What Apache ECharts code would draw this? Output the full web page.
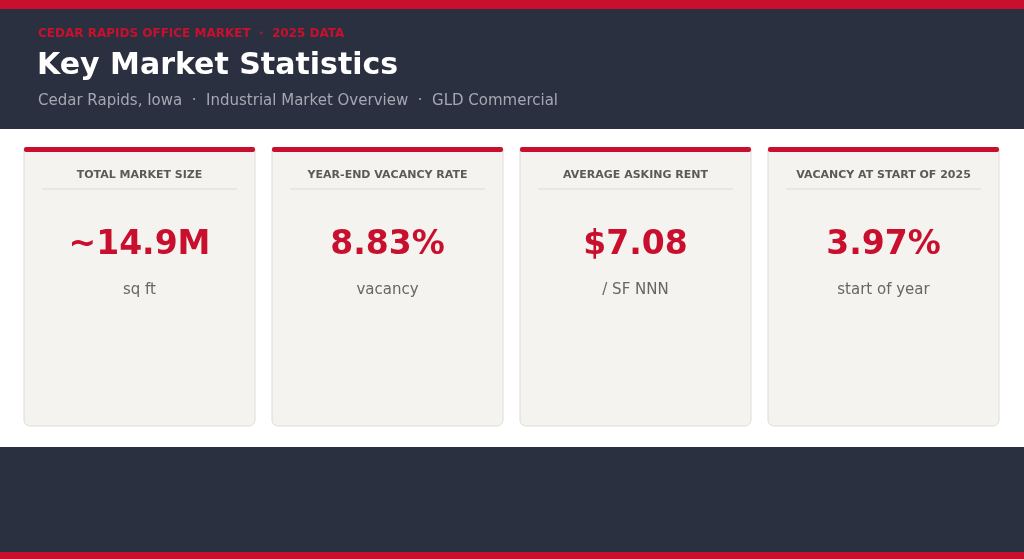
<!DOCTYPE html>
<html lang="en">
<head>
    <meta charset="UTF-8">
    <title>Key Market Statistics</title>
    <script src="https://cdn.jsdelivr.net/npm/echarts@6/dist/echarts.min.js"></script>
    <style>
        html, body { margin: 0; padding: 0; background: #fff; }
        #main { width: 1024px; height: 559px; }
    </style>
</head>
<body>
<div id="main"></div>
<script>
    var statLabels = ['TOTAL MARKET SIZE', 'YEAR-END VACANCY RATE', 'AVERAGE ASKING RENT', 'VACANCY AT START OF 2025'];
    var statValues = ['~14.9M', '8.83%', '$7.08', '3.97%'];
    var statUnits = ['sq ft', 'vacancy', '/ SF NNN', 'start of year'];

    var red = '#c8102e', navy = '#2b3040', font = 'DejaVu Sans';
    var chart = echarts.init(document.getElementById('main'));

    var els = [
        { type: 'rect', shape: { x: 0, y: 0, width: 1024, height: 559 }, style: { fill: '#fff' } },
        { type: 'rect', shape: { x: 0, y: 0, width: 1024, height: 129 }, style: { fill: navy } },
        { type: 'rect', shape: { x: 0, y: 0, width: 1024, height: 9 }, style: { fill: red } },
        { type: 'rect', shape: { x: 0, y: 447, width: 1024, height: 112 }, style: { fill: navy } },
        { type: 'rect', shape: { x: 0, y: 552, width: 1024, height: 7 }, style: { fill: red } },
        { type: 'text', x: 38, y: 34, style: { text: 'CEDAR RAPIDS OFFICE MARKET  ·  2025 DATA', fill: red, font: 'bold 12px ' + font, verticalAlign: 'middle', letterSpacing: 0.6 } },
        { type: 'text', x: 37, y: 66, style: { text: 'Key Market Statistics', fill: '#fff', font: 'bold 30px ' + font, verticalAlign: 'middle' } },
        { type: 'text', x: 38, y: 101, style: { text: 'Cedar Rapids, Iowa  ·  Industrial Market Overview  ·  GLD Commercial', fill: '#a4a8b2', font: '15px ' + font, verticalAlign: 'middle' } }
    ];

    statLabels.forEach(function (label, i) {
        var x = 24 + i * 248, w = 231, cx = x + w / 2;
        els.push(
            { type: 'rect', shape: { x: x, y: 149, width: w, height: 277, r: [0, 0, 6, 6] }, style: { fill: '#f4f3f0', stroke: '#dedcd6', lineWidth: 1 } },
            { type: 'rect', shape: { x: x, y: 147, width: w, height: 5, r: 2 }, style: { fill: red } },
            { type: 'text', x: cx, y: 175, style: { text: label, fill: '#5a5a5a', font: 'bold 11px ' + font, align: 'center', verticalAlign: 'middle', letterSpacing: 0.5 } },
            { type: 'line', shape: { x1: x + 18, y1: 189, x2: x + w - 18, y2: 189 }, style: { stroke: '#dddbd5', lineWidth: 1 } },
            { type: 'text', x: cx, y: 245, style: { text: statValues[i], fill: red, font: 'bold 33px ' + font, align: 'center', verticalAlign: 'middle' } },
            { type: 'text', x: cx, y: 290, style: { text: statUnits[i], fill: '#666', font: '15px ' + font, align: 'center', verticalAlign: 'middle' } }
        );
    });

    chart.setOption({ animation: false, graphic: { elements: els } });
</script>
</body>
</html>
